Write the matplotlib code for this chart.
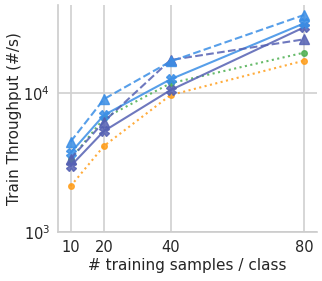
import matplotlib
matplotlib.use('Agg')
import matplotlib.pyplot as plt
import seaborn as sns

samples = [10, 20, 40, 80]

# throughput per configuration (#/s)
light_dashed = [4450, 9000, 16800, 36200]
dark_dashed = [3350, 6200, 17200, 24200]
light_solid = [3700, 6900, 12500, 31500]
dark_solid = [2970, 5300, 10450, 29500]
green_dotted = [3330, 6550, 11700, 19400]
orange_dotted = [2130, 4140, 9620, 17000]

light_blue = '#3a8ee6'
dark_blue = '#5561b3'
green = '#4caf50'
orange = '#ff9e1b'

sns.set_style('whitegrid')
plt.rcParams['font.family'] = ['DejaVu Sans']

fig = plt.figure(figsize=(3.22, 2.81), dpi=100)
ax = fig.add_axes([0.181, 0.175, 0.802, 0.807])

kw = dict(lw=1.5, alpha=0.85)
ax.plot(samples, orange_dotted, color=orange, ls=':', marker='o', ms=4, **kw)
ax.plot(samples, green_dotted, color=green, ls=':', marker='o', ms=4, **kw)
ax.plot(samples, dark_solid, color=dark_blue, ls='-', marker='X', ms=7, **kw)
ax.plot(samples, light_solid, color=light_blue, ls='-', marker='X', ms=7, **kw)
ax.plot(samples, dark_dashed, color=dark_blue, ls='--', marker='^', ms=7, **kw)
ax.plot(samples, light_dashed, color=light_blue, ls='--', marker='^', ms=7, **kw)

ax.set_yscale('log')
ax.set_ylim(1000, 42700)
ax.set_xlim(6.3, 83.8)
ax.set_xticks(samples)
ax.minorticks_off()
ax.set_yticks([1e3, 1e4])
ax.tick_params(axis='both', labelsize=10.5, length=0, pad=6)
ax.grid(True, color='#d0d0d0', lw=1.2)
for side in ['top', 'right']:
    ax.spines[side].set_visible(False)
for side in ['left', 'bottom']:
    ax.spines[side].set_color('#cccccc')
    ax.spines[side].set_linewidth(1.2)

ax.set_xlabel('# training samples / class', fontsize=11, labelpad=2)
ax.set_ylabel('Train Throughput (#/s)', fontsize=11, labelpad=1)

fig.savefig('out.png', dpi=100)
